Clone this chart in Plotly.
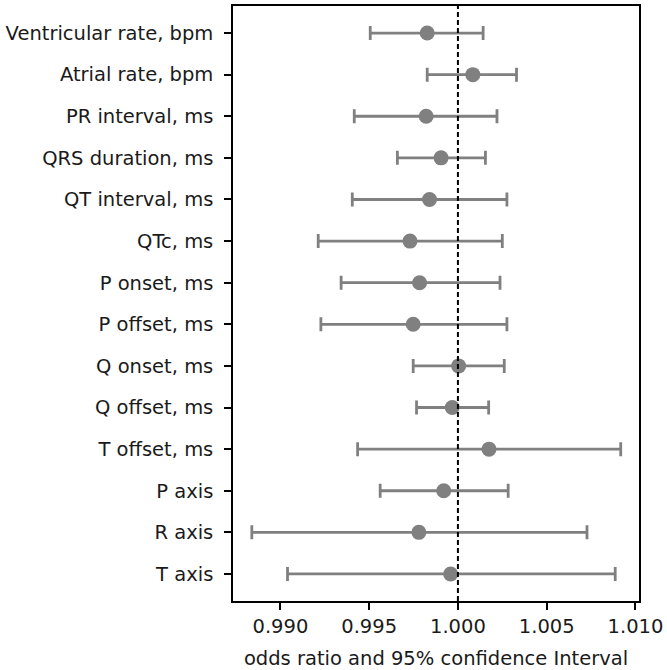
import plotly.graph_objects as go

labels = ["Ventricular rate, bpm", "Atrial rate, bpm", "PR interval, ms", "QRS duration, ms",
          "QT interval, ms", "QTc, ms", "P onset, ms", "P offset, ms", "Q onset, ms",
          "Q offset, ms", "T offset, ms", "P axis", "R axis", "T axis"]
odds = [0.99827, 1.00084, 0.99821, 0.99905, 0.99840, 0.99730, 0.99784, 0.99748, 1.00004,
        0.99968, 1.00175, 0.99920, 0.99780, 0.99959]
ci_low = [0.99506, 0.99827, 0.99416, 0.99659, 0.99405, 0.99213, 0.99342, 0.99228, 0.99748,
          0.99767, 0.99435, 0.99562, 0.98839, 0.99040]
ci_high = [1.00142, 1.00330, 1.00220, 1.00155, 1.00276, 1.00250, 1.00237, 1.00276, 1.00261,
           1.00173, 1.00917, 1.00283, 1.00727, 1.00886]
xticks = [0.990, 0.995, 1.000, 1.005, 1.010]
xtick_text = ["0.990", "0.995", "1.000", "1.005", "1.010"]

err_plus = [h - o for h, o in zip(ci_high, odds)]
err_minus = [o - l for o, l in zip(odds, ci_low)]

FONT = "DejaVu Sans"
FS = 19.5
fig = go.Figure()
fig.add_trace(go.Scatter(
    x=odds, y=labels, mode="markers",
    marker=dict(color="#808080", size=15, line=dict(width=0)),
    error_x=dict(type="data", symmetric=False, array=err_plus, arrayminus=err_minus,
                 color="#808080", thickness=2.8, width=7),
    showlegend=False,
))
fig.add_vline(x=1.0, line=dict(color="black", width=2, dash="5px,3px"))

fig.update_layout(
    width=667, height=670,
    margin=dict(l=233, r=25, t=4, b=67),
    paper_bgcolor="white", plot_bgcolor="white",
    font=dict(family=FONT, size=FS, color="#1a1a1a"),
    xaxis=dict(range=[0.98733, 1.0102], tickvals=xticks, ticktext=xtick_text,
               showline=True, linecolor="black", linewidth=1.6, mirror=True,
               ticks="outside", ticklen=7, tickwidth=1.6, tickcolor="black",
               tickfont=dict(family=FONT, size=FS, color="#1a1a1a"),
               showgrid=False, zeroline=False,
               title=dict(text="odds ratio and 95% confidence Interval", standoff=14,
                          font=dict(family=FONT, size=FS, color="#1a1a1a"))),
    yaxis=dict(type="category", categoryorder="array", categoryarray=labels,
               range=[13.65, -0.65],
               showline=True, linecolor="black", linewidth=1.6, mirror=True,
               ticks="outside", ticklen=7, tickwidth=1.6, tickcolor="black",
               tickfont=dict(family=FONT, size=FS, color="#1a1a1a"),
               ticklabelstandoff=7,
               showgrid=False, zeroline=False),
)
fig.write_html("out.html")
